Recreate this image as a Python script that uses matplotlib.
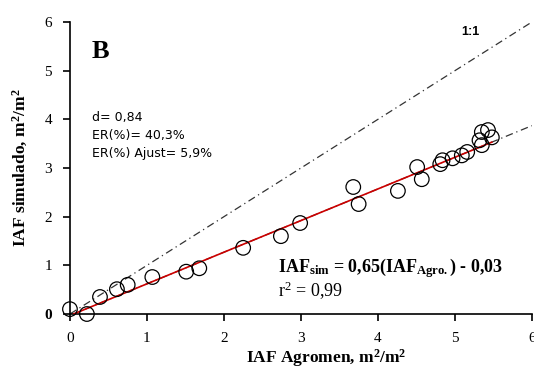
import matplotlib
matplotlib.use("Agg")
import matplotlib.pyplot as plt
import numpy as np

# data
iaf_agromen = [0.00, 0.22, 0.39, 0.61, 0.75, 1.07, 1.51, 1.68, 2.25, 2.74, 2.99,
               3.68, 3.75, 4.26, 4.51, 4.57, 4.81, 4.84, 4.97, 5.09, 5.16,
               5.32, 5.35, 5.35, 5.43, 5.48]
iaf_simulado = [0.10, 0.00, 0.35, 0.51, 0.60, 0.76, 0.87, 0.94, 1.36, 1.60, 1.87,
                2.61, 2.26, 2.53, 3.02, 2.77, 3.08, 3.16, 3.20, 3.26, 3.33,
                3.57, 3.47, 3.74, 3.78, 3.63]
slope = 0.65
intercept = -0.03
ticks = [0, 1, 2, 3, 4, 5, 6]

plt.rcParams["mathtext.fontset"] = "custom"
plt.rcParams["mathtext.rm"] = "Liberation Serif"
plt.rcParams["mathtext.bf"] = "Liberation Serif:bold"
plt.rcParams["mathtext.it"] = "Liberation Serif:italic"

serif = ["Liberation Serif", "DejaVu Serif"]

fig = plt.figure(figsize=(5.34, 3.71), dpi=100)
ax = fig.add_axes([0.131, 0.1536, 0.865, 0.787])
ax.set_xlim(0, 6)
ax.set_ylim(0, 6)

dash = (0, (6, 3, 1, 3))
xl = np.array([0, 6])
# 1:1 line
ax.plot(xl, xl, color="#333333", lw=0.9, linestyle=dash)
# regression extended
ax.plot(xl, slope * xl + intercept, color="#333333", lw=0.9, linestyle=dash)
# regression fit over data
xr = np.array([min(iaf_agromen) + 0.05, max(iaf_agromen)])
ax.plot(xr, slope * xr + intercept, color="#cc0000", lw=1.2, zorder=3)

ax.scatter(iaf_agromen, iaf_simulado, s=110, facecolors="none", edgecolors="black",
           linewidths=0.9, zorder=4, clip_on=False)

for s in ["top", "right"]:
    ax.spines[s].set_visible(False)
for s in ["left", "bottom"]:
    ax.spines[s].set_linewidth(1.2)
ax.set_xticks(ticks)
ax.set_yticks(ticks)
ax.tick_params(direction="out", length=5, width=1.2, labelsize=11, pad=8)
for lab in ax.get_xticklabels() + ax.get_yticklabels():
    lab.set_family(serif)
ax.get_yticklabels()[0].set_fontweight("bold")

ax.set_xlabel("IAF Agromen, m$^\\mathbf{2}$/m$^\\mathbf{2}$", family=serif,
              fontweight="bold", fontsize=12.5, labelpad=4)
ax.xaxis.set_label_coords(0.554, -0.115)
ax.set_ylabel("IAF simulado, m$^\\mathbf{2}$/m$^\\mathbf{2}$", family=serif,
              fontweight="bold", fontsize=12.5, labelpad=10)

ax.text(0.28, 5.4, "B", family=serif, fontweight="bold", fontsize=19, va="center")
ax.text(5.2, 5.8, "1:1", fontsize=9, fontweight="bold", va="center", ha="center",
        family=["Liberation Sans", "DejaVu Sans"])
stats_font = ["DejaVu Sans"]
ax.text(0.28, 4.04, "d= 0,84", fontsize=9, family=stats_font, va="center")
ax.text(0.28, 3.66, "ER(%)= 40,3%", fontsize=9, family=stats_font, va="center")
ax.text(0.28, 3.3, "ER(%) Ajust= 5,9%", fontsize=9, family=stats_font, va="center")

ax.text(2.7, 0.95, "IAF$_{\\mathbf{sim}}$ = 0,65(IAF$_{\\mathbf{Agro.}}$) - 0,03",
        family=serif, fontweight="bold", fontsize=13, va="center")
ax.text(2.7, 0.47, "r$^\\mathrm{2}$ = 0,99", family=serif, fontsize=13, va="center")

fig.savefig("out.png", dpi=100)
